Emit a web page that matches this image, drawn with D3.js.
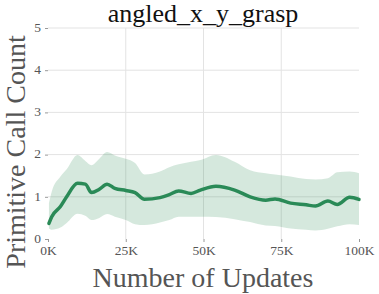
<!DOCTYPE html>
<html>
<head>
<meta charset="utf-8">
<script src="https://d3js.org/d3.v7.min.js"></script>
<style>
  body { margin: 0; background: #fff; }
  svg { display: block; }
  svg text { font-family: "Liberation Serif", "DejaVu Serif", serif; }
</style>
</head>
<body>
<div id="graph"></div>
<script>
// values (updates in K)
var updates = [0.3, 1.2, 4, 6, 9.5, 12, 14, 16.5, 19, 21.5, 25, 28, 31, 36, 39, 42, 46, 49, 54, 60, 65, 70, 73, 78, 83, 86, 90, 93, 97, 100];
var meanCalls = [0.37, 0.53, 0.77, 1.0, 1.32, 1.3, 1.1, 1.18, 1.3, 1.2, 1.15, 1.1, 0.94, 0.98, 1.05, 1.14, 1.08, 1.16, 1.25, 1.16, 1.0, 0.92, 0.95, 0.85, 0.81, 0.78, 0.9, 0.82, 0.99, 0.94];
var upperCalls = [0.85, 1.12, 1.48, 1.65, 1.99, 1.85, 1.75, 1.9, 2.06, 1.98, 1.9, 1.8, 1.53, 1.6, 1.7, 1.77, 1.83, 1.87, 1.99, 1.83, 1.63, 1.56, 1.53, 1.48, 1.42, 1.41, 1.44, 1.58, 1.6, 1.56];
var lowerCalls = [0.25, 0.22, 0.27, 0.38, 0.6, 0.55, 0.45, 0.5, 0.59, 0.53, 0.45, 0.35, 0.33, 0.39, 0.45, 0.53, 0.53, 0.53, 0.52, 0.47, 0.4, 0.32, 0.31, 0.25, 0.22, 0.2, 0.24, 0.3, 0.35, 0.33];
var xTicks = [0, 25, 50, 75, 100];
var yTicks = [0, 1, 2, 3, 4, 5];

var width = 379, height = 294;
var margin = {top: 28, right: 20, bottom: 55, left: 48};
var serif = '"Liberation Serif", "DejaVu Serif", serif';

var data = updates.map(function(u, i) {
  return {u: u, mean: meanCalls[i], hi: upperCalls[i], lo: lowerCalls[i]};
});

var svg = d3.select('#graph').append('svg')
  .attr('width', width)
  .attr('height', height);

var x = d3.scaleLinear().domain([0, 100]).range([margin.left, width - margin.right]);
var y = d3.scaleLinear().domain([0, 5]).range([height - margin.bottom, margin.top]);

// grid
svg.append('g').selectAll('line')
  .data(yTicks.filter(function(d){ return d > 0; }))
  .enter().append('line')
    .attr('x1', x(0)).attr('x2', x(100))
    .attr('y1', function(d){ return y(d); })
    .attr('y2', function(d){ return y(d); })
    .attr('stroke', '#e3e3e3').attr('stroke-width', 1);

svg.append('g').selectAll('line')
  .data(xTicks.filter(function(d){ return d > 0 && d < 100; }))
  .enter().append('line')
    .attr('x1', function(d){ return x(d); })
    .attr('x2', function(d){ return x(d); })
    .attr('y1', y(0)).attr('y2', y(5))
    .attr('stroke', '#e3e3e3').attr('stroke-width', 1);

// band
var area = d3.area()
  .x(function(d){ return x(d.u); })
  .y0(function(d){ return y(d.lo); })
  .y1(function(d){ return y(d.hi); })
  .curve(d3.curveMonotoneX);

svg.append('path')
  .datum(data)
  .attr('d', area)
  .attr('fill', '#2e8b57')
  .attr('fill-opacity', 0.2);

var line = d3.line()
  .x(function(d){ return x(d.u); })
  .y(function(d){ return y(d.mean); })
  .curve(d3.curveMonotoneX);

svg.append('path')
  .datum(data)
  .attr('d', line)
  .attr('fill', 'none')
  .attr('stroke', '#2a8a57')
  .attr('stroke-width', 3.5)
  .attr('stroke-linejoin', 'round')
  .attr('stroke-linecap', 'round');

// axes
var xAxis = svg.append('g')
  .attr('transform', 'translate(0,' + y(0) + ')')
  .call(d3.axisBottom(x).tickValues(xTicks).tickSize(3).tickPadding(3)
    .tickFormat(function(d){ return d + 'K'; }));
var yAxis = svg.append('g')
  .attr('transform', 'translate(' + x(0) + ',0)')
  .call(d3.axisLeft(y).tickValues(yTicks).tickSize(3).tickPadding(4)
    .tickFormat(d3.format('d')));

[xAxis, yAxis].forEach(function(a) {
  a.attr('font-family', serif);
  a.select('.domain').remove();
  a.selectAll('.tick line').attr('stroke', '#999');
  a.selectAll('.tick text')
    .attr('fill', '#555')
    .style('font-size', '13.5px');
});
yAxis.selectAll('.tick text').attr('dy', '0.25em');

// titles
svg.append('text')
  .attr('x', 203).attr('y', 22)
  .attr('text-anchor', 'middle')
  .attr('font-family', serif)
  .attr('fill', '#111')
  .style('font-size', '26px')
  .text('angled_x_y_grasp');

svg.append('text')
  .attr('x', 203).attr('y', 287)
  .attr('text-anchor', 'middle')
  .attr('font-family', serif)
  .attr('fill', '#555')
  .style('font-size', '28px')
  .text('Number of Updates');

svg.append('text')
  .attr('transform', 'translate(25,' + 152 + ') rotate(-90)')
  .attr('text-anchor', 'middle')
  .attr('font-family', serif)
  .attr('fill', '#555')
  .style('font-size', '28px')
  .text('Primitive Call Count');
</script>
</body>
</html>
